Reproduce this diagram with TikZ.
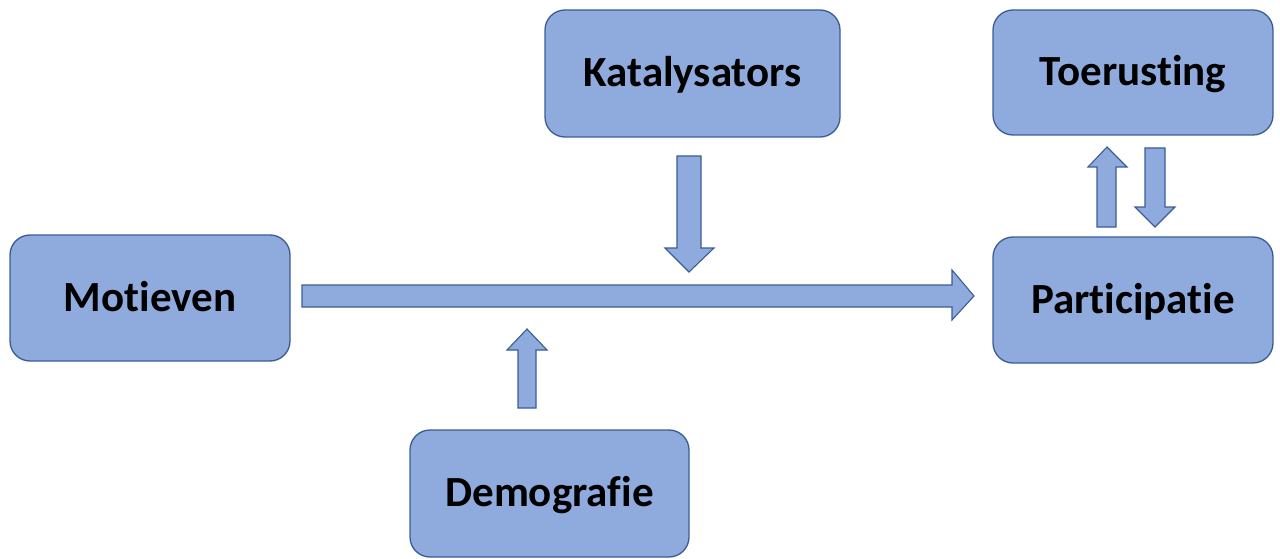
\documentclass[tikz,border=0pt]{standalone}
\usepackage{fontspec}
\setmainfont[Ligatures=NoCommon]{Carlito}
\definecolor{boxfill}{RGB}{143,170,220}
\definecolor{boxline}{RGB}{58,92,150}
\begin{document}
\begin{tikzpicture}[x=1pt,y=-1pt,
  box/.style={draw=boxline,fill=boxfill,line width=1.3pt,rounded corners=20pt,
    minimum width=280pt,minimum height=126pt,inner sep=0pt,
    text height=26pt,text depth=0pt,
    font=\fontsize{43}{46}\selectfont\bfseries},
  blockarrow/.style={draw=boxline,fill=boxfill,line width=1.1pt,line join=miter}]
\useasboundingbox (0,0) rectangle (1280,559);
\node[box] (mot) at (150,298) {Motieven};
\node[box,minimum width=295pt,minimum height=127pt] (kat) at (692.5,73.5) {Katalysators};
\node[box,minimum height=125pt] (toe) at (1133,72.5) {Toerusting};
\node[box] (par) at (1133,300) {Participatie};
\node[box,minimum width=279pt,minimum height=127pt] (dem) at (549.5,493.5) {Demografie};
% main horizontal arrow
\draw[blockarrow] (302,285) -- (952,285) -- (952,270) -- (974,296) -- (952,320) -- (952,307) -- (302,307) -- cycle;
% Katalysators down arrow
\draw[blockarrow] (677,156) -- (701,156) -- (701,248) -- (714,248) -- (689,272) -- (665,248) -- (677,248) -- cycle;
% Demografie up arrow
\draw[blockarrow] (518,408) -- (536,408) -- (536,350) -- (547,350) -- (527,329) -- (507,350) -- (518,350) -- cycle;
% up arrow to Toerusting
\draw[blockarrow] (1097,227) -- (1116,227) -- (1116,167) -- (1127,167) -- (1107,147) -- (1088,167) -- (1097,167) -- cycle;
% down arrow from Toerusting
\draw[blockarrow] (1145,148) -- (1165,148) -- (1165,207) -- (1175,207) -- (1155,227) -- (1135,207) -- (1145,207) -- cycle;
\end{tikzpicture}
\end{document}
